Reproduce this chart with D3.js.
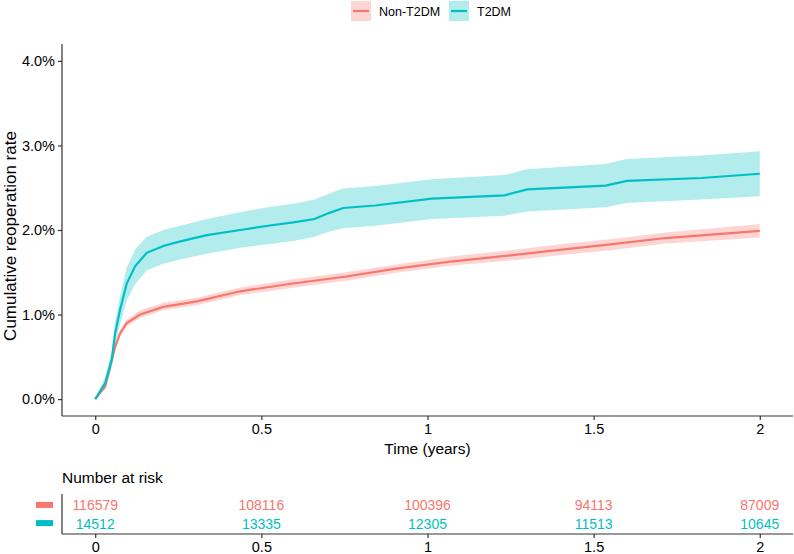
<!DOCTYPE html>
<html lang="en">
<head>
  <meta charset="UTF-8" />
  <title>Cumulative reoperation rate</title>
  <script src="https://d3js.org/d3.v7.min.js"></script>
  <style>
    body { margin: 0; padding: 0; background: #fff; }
    svg { display: block; font-family: "Liberation Sans", Arial, sans-serif; }
    .axis path, .axis line { stroke: #333; stroke-width: 1.2px; }
    .axis text { fill: #000; font-size: 14.5px; font-family: "Liberation Sans", Arial, sans-serif; }
  </style>
</head>
<body>
<div id="chart"></div>
<script>
  // groups and colours
  const groups = ["Non-T2DM", "T2DM"];
  const colors = ["#F8766D", "#00BFC4"];

  // Non-T2DM: time (years), estimate, lower, upper (%)
  const timeNon = [0, 0.03, 0.045, 0.06, 0.075, 0.095, 0.135, 0.205, 0.306, 0.436, 0.60, 0.756, 0.90, 1.077, 1.25, 1.397, 1.55, 1.717, 2.0];
  const estNon  = [0, 0.15, 0.385, 0.62, 0.78, 0.90, 1.00, 1.09, 1.155, 1.275, 1.37, 1.45, 1.54, 1.63, 1.70, 1.765, 1.83, 1.905, 1.99];
  const lowNon  = [0, 0.13, 0.35, 0.58, 0.74, 0.86, 0.96, 1.05, 1.11, 1.23, 1.32, 1.40, 1.49, 1.58, 1.64, 1.70, 1.76, 1.84, 1.91];
  const highNon = [0, 0.17, 0.42, 0.66, 0.82, 0.94, 1.05, 1.14, 1.20, 1.32, 1.42, 1.50, 1.59, 1.69, 1.76, 1.83, 1.89, 1.97, 2.07];

  // T2DM
  const timeT2 = [0, 0.03, 0.05, 0.06, 0.075, 0.095, 0.12, 0.155, 0.205, 0.256, 0.336, 0.436, 0.52, 0.596, 0.66, 0.703, 0.746, 0.842, 1.013, 1.232, 1.30, 1.536, 1.60, 1.824, 2.0];
  const estT2   = [0, 0.19, 0.47, 0.78, 1.06, 1.37, 1.57, 1.73, 1.81, 1.865, 1.94, 2.00, 2.05, 2.09, 2.13, 2.20, 2.26, 2.29, 2.37, 2.41, 2.48, 2.525, 2.58, 2.615, 2.665];
  const lowT2   = [0, 0.12, 0.36, 0.64, 0.89, 1.17, 1.36, 1.52, 1.60, 1.65, 1.72, 1.79, 1.83, 1.87, 1.92, 1.98, 2.02, 2.05, 2.13, 2.17, 2.22, 2.27, 2.32, 2.36, 2.40];
  const highT2  = [0, 0.26, 0.58, 0.92, 1.22, 1.56, 1.77, 1.92, 2.00, 2.05, 2.13, 2.21, 2.27, 2.31, 2.36, 2.43, 2.49, 2.52, 2.60, 2.65, 2.72, 2.78, 2.84, 2.88, 2.93];

  // number at risk table
  const riskTimes = [0, 0.5, 1, 1.5, 2];
  const riskNon = [116579, 108116, 100396, 94113, 87009];
  const riskT2  = [14512, 13335, 12305, 11513, 10645];

  const xTicks = [0, 0.5, 1, 1.5, 2];
  const yTicks = [0, 1, 2, 3, 4];

  const W = 794, H = 554;
  const pLeft = 62, pRight = 793;
  const pTop = 44, pBottom = 416;

  const svg = d3.select("#chart").append("svg")
    .attr("width", W)
    .attr("height", H);

  const x = d3.scaleLinear().domain([-0.1, 2.1]).range([pLeft, pRight]);
  const y = d3.scaleLinear().domain([-0.2, 4.2]).range([pBottom, pTop]);

  const series = [
    { t: timeNon, est: estNon, lo: lowNon, hi: highNon },
    { t: timeT2, est: estT2, lo: lowT2, hi: highT2 }
  ].map((s, k) => ({
    color: colors[k],
    pts: s.t.map((t, i) => ({ t: t, est: s.est[i], lo: s.lo[i], hi: s.hi[i] }))
  }));

  const area = d3.area()
    .x(d => x(d.t))
    .y0(d => y(d.lo))
    .y1(d => y(d.hi));

  const line = d3.line()
    .x(d => x(d.t))
    .y(d => y(d.est));

  // ribbons first, then lines
  series.forEach(s => {
    svg.append("path")
      .attr("d", area(s.pts))
      .attr("fill", s.color)
      .attr("fill-opacity", 0.3);
  });
  series.forEach(s => {
    svg.append("path")
      .attr("d", line(s.pts))
      .attr("fill", "none")
      .attr("stroke", s.color)
      .attr("stroke-width", 2.2);
  });

  // axes
  svg.append("g")
    .attr("class", "axis")
    .attr("transform", `translate(0,${pBottom})`)
    .call(d3.axisBottom(x).tickValues(xTicks).tickSize(4).tickPadding(4).tickFormat(d3.format("")))
    .call(g => g.select(".domain").attr("d", `M${pLeft},0H${pRight}`));

  svg.append("g")
    .attr("class", "axis")
    .attr("transform", `translate(${pLeft},0)`)
    .call(d3.axisLeft(y).tickValues(yTicks).tickSize(4).tickPadding(3).tickFormat(d => d.toFixed(1) + "%"))
    .call(g => g.select(".domain").attr("d", `M0,${pBottom}V${pTop}`));

  // axis titles
  svg.append("text")
    .attr("x", (pLeft + pRight) / 2)
    .attr("y", 454)
    .attr("text-anchor", "middle")
    .attr("font-size", 15.5)
    .text("Time (years)");

  svg.append("text")
    .attr("transform", `translate(16,236) rotate(-90)`)
    .attr("text-anchor", "middle")
    .attr("font-size", 17)
    .text("Cumulative reoperation rate");

  // legend at the top
  const legend = svg.append("g");
  const keyX = [351, 449];
  groups.forEach((name, k) => {
    const g = legend.append("g").attr("transform", `translate(${keyX[k]},1)`);
    g.append("rect").attr("width", 20).attr("height", 20)
      .attr("fill", colors[k]).attr("fill-opacity", 0.3);
    g.append("line").attr("x1", 2).attr("x2", 18).attr("y1", 10).attr("y2", 10)
      .attr("stroke", colors[k]).attr("stroke-width", 2.2);
    g.append("text").attr("x", 28).attr("y", 15)
      .attr("font-size", 12.5).text(name);
  });

  // risk table
  const rTop = 494, rBottom = 534;
  const ry = d3.scaleLinear().domain([0.4, 2.6]).range([rTop, rBottom]);

  svg.append("text")
    .attr("x", pLeft)
    .attr("y", 483)
    .attr("font-size", 15.5)
    .text("Number at risk");

  [riskNon, riskT2].forEach((row, k) => {
    svg.append("g").selectAll("text")
      .data(row)
      .join("text")
      .attr("x", (d, i) => x(riskTimes[i]))
      .attr("y", ry(k + 1) + 5.5)
      .attr("text-anchor", "middle")
      .attr("font-size", 14)
      .attr("fill", colors[k])
      .text(d => d);

    svg.append("rect")
      .attr("x", 36).attr("y", ry(k + 1) - 3)
      .attr("width", 17).attr("height", 6)
      .attr("fill", colors[k]);
  });

  svg.append("g")
    .attr("class", "axis")
    .attr("transform", `translate(0,${rBottom})`)
    .call(d3.axisBottom(x).tickValues(riskTimes).tickSize(4).tickPadding(4).tickFormat(d3.format("")))
    .call(g => g.select(".domain").attr("d", `M${pLeft},0H${pRight}`));

  svg.append("line")
    .attr("x1", pLeft).attr("x2", pLeft)
    .attr("y1", rTop).attr("y2", rBottom)
    .attr("stroke", "#333").attr("stroke-width", 1.2);
</script>
</body>
</html>
